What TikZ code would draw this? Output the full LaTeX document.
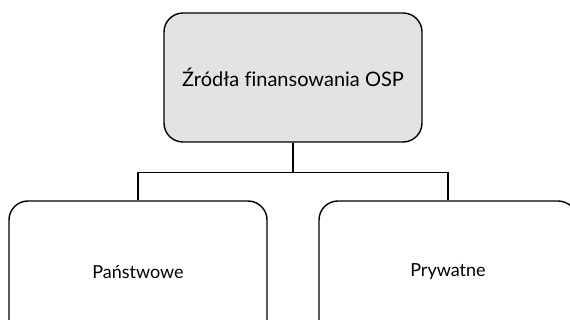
\documentclass[tikz,border=0pt]{standalone}
\usepackage{fontspec}
\setmainfont[Ligatures=NoCommon]{Lato}
\begin{document}
\begin{tikzpicture}[x=1pt,y=-1pt]
        \tikzstyle{box}=[draw,line width=1.4pt,rounded corners=19pt,minimum width=258pt,inner sep=0pt,font=\fontsize{18}{22}\selectfont]
        \tikzstyle{link}=[line width=1.4pt]
        \useasboundingbox (0,0) rectangle (570,320);

        \node[box,fill=black!11,minimum height=129pt,font=\fontsize{20}{24}\selectfont] (zrodla) at (293,77.5) {Źródła finansowania OSP};
        \node[box,minimum height=142pt] (panstwowe) at (138,272) {Państwowe};
        \node[box,minimum height=142pt] (prywatne) at (448,272) {Prywatne};

        \coordinate (rozgalezienie) at (293,172.5);
        \draw[link] (zrodla.south) -- (rozgalezienie);
        \draw[link] (rozgalezienie) -| (panstwowe.north);
        \draw[link] (rozgalezienie) -| (prywatne.north);

    \end{tikzpicture}
\end{document}
